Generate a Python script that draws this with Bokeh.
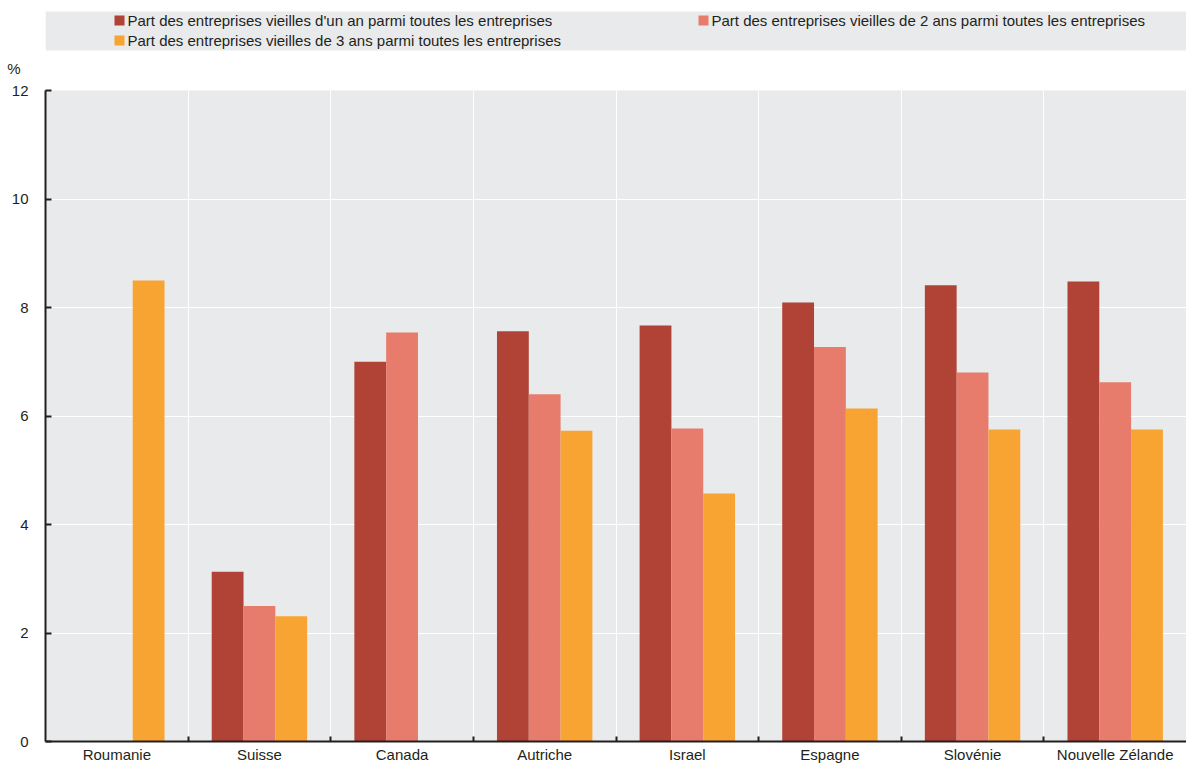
from bokeh.plotting import figure
from bokeh.models import Range1d, FixedTicker, ColumnDataSource
from bokeh.layouts import column
from bokeh.core.properties import value
from bokeh.embed import file_html
from bokeh.resources import INLINE

countries = ["Roumanie", "Suisse", "Canada", "Autriche", "Israel", "Espagne", "Slovénie", "Nouvelle Zélande"]
one_year = [None, 3.13, 7.00, 7.56, 7.67, 8.09, 8.41, 8.48]
two_year = [None, 2.50, 7.54, 6.40, 5.77, 7.27, 6.80, 6.62]
three_year = [8.50, 2.31, None, 5.73, 4.57, 6.14, 5.75, 5.75]
series_labels = [
    "Part des entreprises vieilles d'un an parmi toutes les entreprises",
    "Part des entreprises vieilles de 2 ans parmi toutes les entreprises",
    "Part des entreprises vieilles de 3 ans parmi toutes les entreprises",
]
colors = ["#b04335", "#e87c6c", "#f8a432"]
y_ticks = [0, 2, 4, 6, 8, 10, 12]
unit_label = "%"

FONT = "Liberation Sans"
FS = "15px"
TXT = "#231f20"
BG = "#e9eaec"
W = 1186
LEFT = 45
LEG_H = 80

# ---------- legend strip (frame aligned with the chart frame; data x == canvas x) ----------
lp = figure(width=W, height=LEG_H, x_range=Range1d(LEFT, W), y_range=Range1d(LEG_H, 0),
            toolbar_location=None, output_backend="svg",
            min_border_left=LEFT, min_border_right=0, min_border_top=0, min_border_bottom=0,
            x_axis_type=None)
lp.grid.visible = False
lp.outline_line_color = None
lp.background_fill_color = "white"
lp.quad(left=[LEFT], right=[W], top=[11], bottom=[50], fill_color=BG, line_color=None)
leg_x = [119, 703, 119]
leg_y = [20, 20, 40]
lp.rect(x=leg_x, y=leg_y, width=10, height=10, fill_color=colors, line_color=None)
lp.text(x=[v + 8 for v in leg_x], y=leg_y, text=series_labels, text_baseline="middle",
        text_align="left", text_font=value(FONT), text_font_size=FS, text_color=TXT)
# the "%" unit sits left of the frame: drawn as the legend strip's only y tick label
ly = lp.yaxis[0]
ly.ticker = FixedTicker(ticks=[68])
ly.major_label_overrides = {68: unit_label}
ly.axis_line_color = None
ly.major_tick_line_color = None
ly.minor_tick_line_color = None
ly.major_label_standoff = 19
ly.major_label_text_font = FONT
ly.major_label_text_font_size = FS
ly.major_label_text_color = TXT

# ---------- main chart ----------
n = len(countries)
p = figure(width=W, height=765 - LEG_H, x_range=Range1d(0, n), y_range=Range1d(0, 12),
           toolbar_location=None, output_backend="svg",
           min_border_left=LEFT, min_border_right=0, min_border_top=10, min_border_bottom=21)
p.background_fill_color = BG
p.border_fill_color = "white"
p.outline_line_color = None

bw = 0.223
offsets = [-bw, 0.0, bw]
for vals, off, col in zip([one_year, two_year, three_year], offsets, colors):
    xs = [i + 0.5 + off for i, v in enumerate(vals) if v is not None]
    tops = [v for v in vals if v is not None]
    src = ColumnDataSource(dict(x=xs, top=tops))
    p.vbar(x="x", top="top", width=bw, bottom=0, source=src, fill_color=col, line_color=None)

centers = [i + 0.5 for i in range(n)]
bounds = [float(i) for i in range(1, n + 1)]

xa = p.xaxis[0]
xa.ticker = FixedTicker(ticks=centers, minor_ticks=bounds[:-1])
xa.major_label_overrides = {c: name for c, name in zip(centers, countries)}
xa.major_tick_in = 0
xa.major_tick_out = 0
xa.minor_tick_in = 5
xa.minor_tick_out = 0
xa.minor_tick_line_color = TXT
xa.minor_tick_line_width = 2
xa.axis_line_color = TXT
xa.axis_line_width = 2
xa.major_label_standoff = 4
xa.major_label_text_font = FONT
xa.major_label_text_font_size = FS
xa.major_label_text_color = TXT

ya = p.yaxis[0]
ya.ticker = FixedTicker(ticks=y_ticks)
ya.major_tick_in = 6
ya.major_tick_out = 0
ya.major_tick_line_color = TXT
ya.major_tick_line_width = 2
ya.minor_tick_line_color = None
ya.axis_line_color = TXT
ya.axis_line_width = 2
ya.major_label_standoff = 17
ya.major_label_text_font = FONT
ya.major_label_text_font_size = FS
ya.major_label_text_color = TXT

p.xgrid.ticker = FixedTicker(ticks=bounds)
p.xgrid.grid_line_color = "white"
p.xgrid.grid_line_width = 1
p.ygrid.ticker = FixedTicker(ticks=y_ticks[1:])
p.ygrid.grid_line_color = "white"
p.ygrid.grid_line_width = 1

layout = column(lp, p, spacing=0)
open("out.html", "w").write(file_html(layout, INLINE))
